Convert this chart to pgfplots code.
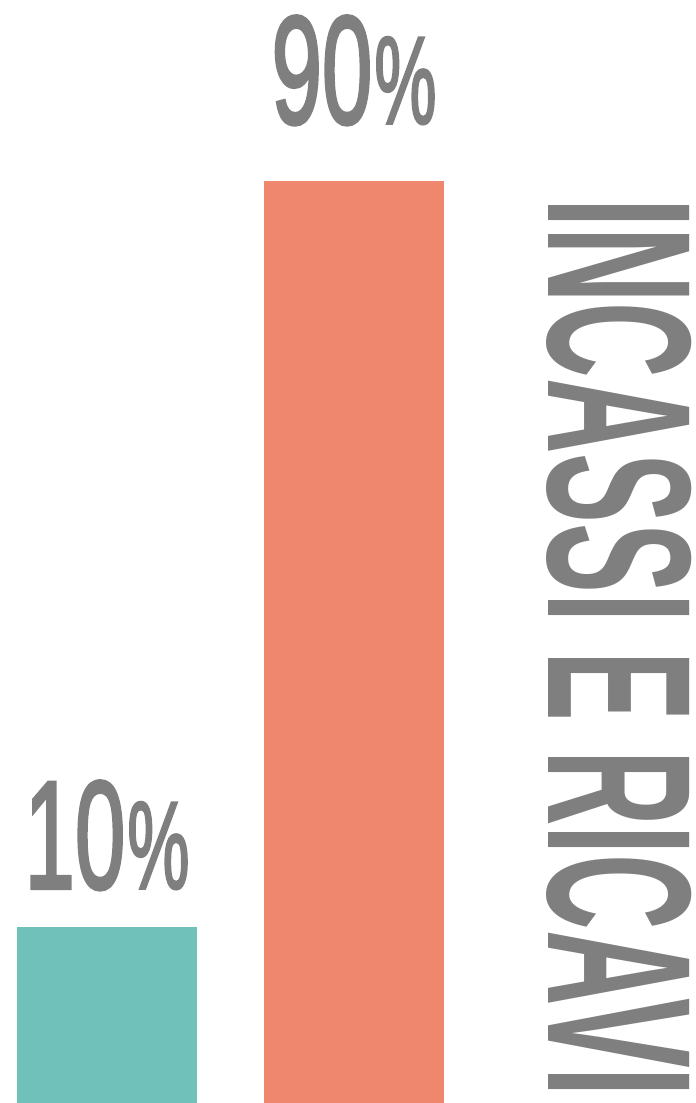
\documentclass[border=0pt]{standalone}
\usepackage{pgfplots}
\pgfplotsset{compat=1.18}
\usepackage{fontspec}
\setmainfont{Liberation Sans}
\newfontfamily\digfont[FakeBold=2.5]{Liberation Sans}
\definecolor{teal1}{HTML}{70C1B9}
\definecolor{salmon1}{HTML}{EF866E}
\definecolor{txtgray}{HTML}{7F7F7F}
\newcommand\pct[1]{\scalebox{0.59}[1]{\digfont\fontsize{153.6bp}{160bp}\selectfont #1}\hspace{2bp}\resizebox{62bp}{86bp}{\digfont\fontsize{100bp}{110bp}\selectfont\%}}
\begin{document}
\begin{tikzpicture}
\begin{axis}[
  scale only axis, width=695bp, height=1103bp,
  hide axis, clip=false,
  xmin=-0.4332, xmax=2.3806, ymin=0, ymax=119.63,
  ybar, bar width=180bp,
  every node near coord/.append style={color=txtgray, inner sep=0pt, anchor=south},
]
\addplot[fill=teal1, draw=none, bar shift=0pt,
  nodes near coords={\pct{10}},
  every node near coord/.append style={yshift=37bp}]
  coordinates {(0,19.09)};
\addplot[fill=salmon1, draw=none, bar shift=0pt,
  nodes near coords={\pct{90}},
  every node near coord/.append style={yshift=56bp}]
  coordinates {(1,100)};
\node[rotate=-90, inner sep=0pt, anchor=center, text=txtgray]
  at (axis cs:2.0729,49.40) {\resizebox{899bp}{143bp}{\bfseries INCASSI E RICAVI}};
\coordinate (SW) at (rel axis cs:0,0);
\coordinate (NE) at (rel axis cs:1,1);
\end{axis}
\pgfresetboundingbox
\path (SW) rectangle (NE);
\end{tikzpicture}
\end{document}
